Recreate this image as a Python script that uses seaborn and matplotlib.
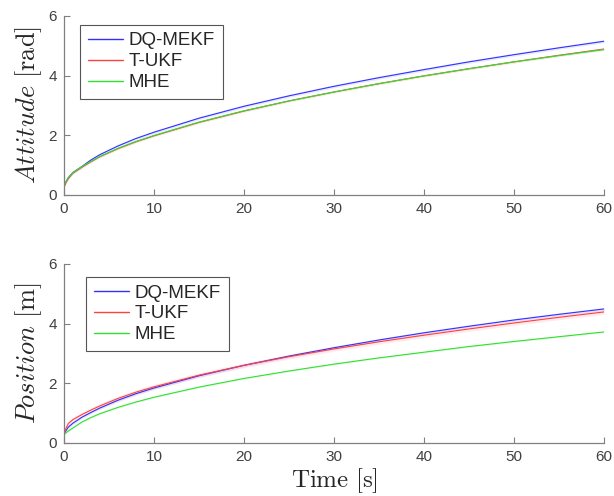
import matplotlib
matplotlib.use("Agg")
import matplotlib.pyplot as plt
import seaborn as sns
import pandas as pd
import numpy as np

# ---- data ----
time = [0, 0.25, 0.5, 1, 2, 3, 4, 6, 8, 10, 15, 20, 25, 30, 35, 40, 45, 50, 55, 60]

att_dq   = [0.30, 0.45, 0.58, 0.75, 0.95, 1.17, 1.35, 1.64, 1.89, 2.10, 2.57, 2.97, 3.32, 3.64, 3.93, 4.20, 4.46, 4.70, 4.93, 5.15]
att_tukf = [0.25, 0.42, 0.55, 0.73, 0.93, 1.11, 1.28, 1.55, 1.78, 1.98, 2.43, 2.81, 3.15, 3.45, 3.73, 3.99, 4.23, 4.46, 4.68, 4.89]
att_mhe  = [0.30, 0.45, 0.58, 0.75, 0.95, 1.12, 1.29, 1.56, 1.79, 1.99, 2.44, 2.82, 3.15, 3.45, 3.73, 3.99, 4.23, 4.46, 4.67, 4.87]

pos_dq   = [0.30, 0.42, 0.53, 0.66, 0.86, 1.02, 1.17, 1.43, 1.65, 1.84, 2.25, 2.60, 2.91, 3.19, 3.45, 3.69, 3.91, 4.12, 4.31, 4.49]
pos_tukf = [0.25, 0.50, 0.65, 0.78, 0.95, 1.10, 1.24, 1.49, 1.70, 1.88, 2.27, 2.60, 2.89, 3.15, 3.39, 3.61, 3.82, 4.02, 4.21, 4.39]
pos_mhe  = [0.30, 0.34, 0.40, 0.50, 0.70, 0.85, 0.98, 1.19, 1.37, 1.53, 1.87, 2.16, 2.41, 2.64, 2.85, 3.04, 3.23, 3.40, 3.56, 3.72]

# faint uncertainty half-widths
att_spread = {"DQ-MEKF": 0.05, "T-UKF": 0.04, "MHE": 0.03}
pos_spread = {"DQ-MEKF": 0.05, "T-UKF": 0.08, "MHE": 0.03}

methods = ["DQ-MEKF", "T-UKF", "MHE"]
colors = {"DQ-MEKF": "#3030ff", "T-UKF": "#ff4040", "MHE": "#30e030"}

x_ticks = [0, 10, 20, 30, 40, 50, 60]
y_ticks = [0, 2, 4, 6]

def make_df(a, b, c):
    rows = []
    for name, vals in zip(methods, [a, b, c]):
        for t, v in zip(time, vals):
            rows.append({"Time": t, "Value": v, "Method": name})
    return pd.DataFrame(rows)

df_att = make_df(att_dq, att_tukf, att_mhe)
df_pos = make_df(pos_dq, pos_tukf, pos_mhe)

sns.set_style("ticks")
plt.rcParams["mathtext.fontset"] = "cm"
plt.rcParams["font.family"] = ["Liberation Sans", "DejaVu Sans"]

fig = plt.figure(figsize=(6.14, 4.96), dpi=100)
ax1 = fig.add_axes([0.104, 0.607, 0.880, 0.361])
ax2 = fig.add_axes([0.104, 0.107, 0.880, 0.361])

axis_col = "#808080"
for ax, df, spread, ylab, anchor in [
    (ax1, df_att, att_spread, r"$\mathit{Attitude}\ \mathrm{[rad]}$", (0.030, 0.950)),
    (ax2, df_pos, pos_spread, r"$\mathit{Position}\ \mathrm{[m]}$", (0.041, 0.927)),
]:
    for m in methods:
        sub = df[df["Method"] == m]
        ax.fill_between(sub["Time"], sub["Value"] - spread[m], sub["Value"] + spread[m],
                        color=colors[m], alpha=0.10, linewidth=0)
    sns.lineplot(data=df, x="Time", y="Value", hue="Method", palette=colors,
                 hue_order=methods, linewidth=0.8, ax=ax, legend=True)
    ax.set_xlim(0, 60)
    ax.set_ylim(0, 6)
    ax.set_xticks(x_ticks)
    ax.set_yticks(y_ticks)
    ax.tick_params(direction="in", length=4, width=0.8, color=axis_col,
                   labelsize=11, labelcolor="#404040", pad=5)
    for s in ["top", "right"]:
        ax.spines[s].set_visible(False)
    for s in ["left", "bottom"]:
        ax.spines[s].set_color(axis_col)
        ax.spines[s].set_linewidth(0.9)
    ax.set_ylabel(ylab, fontsize=19, labelpad=3)
    ax.set_xlabel("")
    leg = ax.legend(loc="upper left", bbox_to_anchor=anchor, borderaxespad=0,
                    fontsize=13.5, handlelength=1.9, handletextpad=0.3,
                    borderpad=0.4, labelspacing=0.2, fancybox=False, framealpha=1,
                    edgecolor="#555555")
    leg.get_frame().set_linewidth(0.8)
    for line in leg.get_lines():
        line.set_linewidth(1.0)

ax2.set_xlabel(r"$\mathrm{Time\ [s]}$", fontsize=18, labelpad=2)

fig.savefig("out.png", dpi=100)
